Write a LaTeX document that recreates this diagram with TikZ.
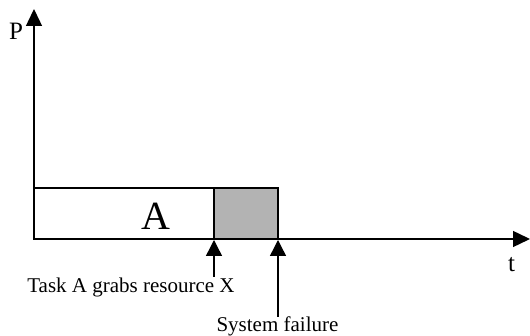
\documentclass[tikz,border=0pt]{standalone}
\usepackage{fontspec}
\setmainfont{Liberation Serif}
\usetikzlibrary{arrows.meta}
\definecolor{boxgray}{HTML}{B3B3B3}
\tikzset{
  axis/.style={line width=1.4pt,-{Triangle[length=17pt,width=16pt]}},
  pointer/.style={line width=1.4pt,-{Triangle[length=16pt,width=16pt]}},
  blk/.style={draw,line width=1.4pt},
  lbl/.style={font=\fontsize{21pt}{25pt}\selectfont,inner sep=0pt,anchor=base},
  axlbl/.style={font=\fontsize{25pt}{30pt}\selectfont,inner sep=0pt,anchor=base}
}
\begin{document}
\begin{tikzpicture}[x=1pt,y=-1pt]
\useasboundingbox (0,0) rectangle (530,336);
\coordinate (O) at (34,239);
\coordinate (Ptop) at (34,9);
\coordinate (Tend) at (530,239);
\draw[blk,fill=white] (34,188) rectangle (214,239);
\draw[blk,fill=boxgray] (214,188) rectangle (278,239);
\draw[axis] (O) -- (Ptop);
\draw[axis] (O) -- (Tend);
\node[font=\fontsize{40pt}{48pt}\selectfont,inner sep=0pt,anchor=base] (A) at (155.5,230) {A};
\node[axlbl] (P) at (16,40) {P};
\node[axlbl] (t) at (511.5,272) {t};
\coordinate (g1) at (214,277);
\coordinate (g2) at (214,240);
\coordinate (f1) at (278,317);
\coordinate (f2) at (278,240);
\draw[pointer] (g1) -- (g2);
\draw[pointer] (f1) -- (f2);
\node[lbl] (task) at (131,293) {Task A grabs resource X};
\node[lbl] (fail) at (277.5,332) {System failure};
\end{tikzpicture}
\end{document}
